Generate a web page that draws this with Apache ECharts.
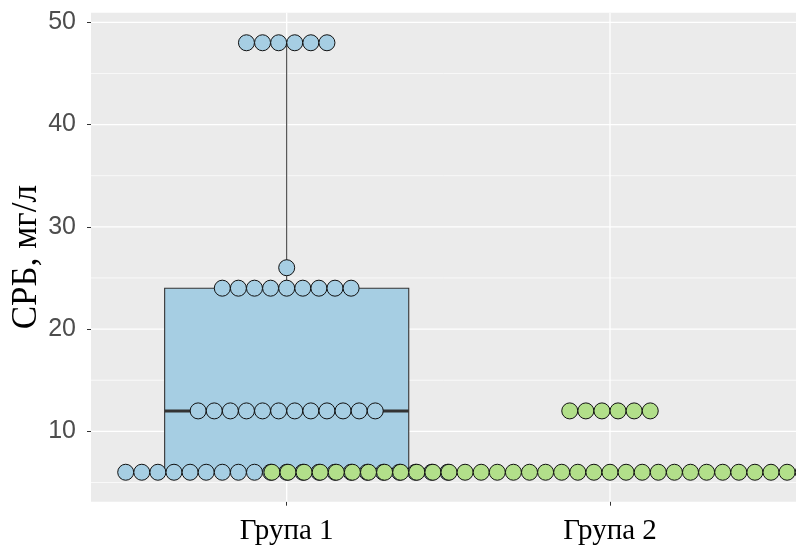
<!DOCTYPE html>
<html>
<head>
<meta charset="utf-8">
<script src="https://cdn.jsdelivr.net/npm/echarts@6/dist/echarts.min.js"></script>
<style>
html,body{margin:0;padding:0;background:#fff;}
#chart{width:796px;height:547px;}
</style>
</head>
<body>
<div id="chart"></div>
<script>
// ---- data ----
const categories = ['Група 1', 'Група 2'];
const groupPos = [1, 2];
const dotValues1 = [6, 12, 24, 26, 48];
const dotCounts1 = [21, 12, 9, 1, 6];
const dotValues2 = [6, 12];
const dotCounts2 = [43, 6];
const yMajorTicks = [10, 20, 30, 40, 50];
const yMinorTicks = [5, 15, 25, 35, 45];

// ---- styles ----
const fills = ['#A6CEE3', '#B2DF8A'];
const DOT_STEP = 16.1;
const DOT_SIZE = 16;
const BOX_WIDTH = 0.755;

function expand(values, counts) {
  const out = [];
  values.forEach((v, i) => { for (let k = 0; k < counts[i]; k++) out.push(v); });
  return out;
}
function quantile(sorted, p) {
  const h = (sorted.length - 1) * p;
  const lo = Math.floor(h), hi = Math.ceil(h);
  return sorted[lo] + (sorted[hi] - sorted[lo]) * (h - lo);
}
function boxStats(values, counts, x) {
  const s = expand(values, counts).sort((a, b) => a - b);
  const q1 = quantile(s, 0.25), med = quantile(s, 0.5), q3 = quantile(s, 0.75);
  const iqr = q3 - q1;
  const inside = s.filter(v => v >= q1 - 1.5 * iqr && v <= q3 + 1.5 * iqr);
  return [x, q1, med, q3, Math.min(...inside), Math.max(...inside)];
}
function dots(values, counts, x) {
  const out = [];
  values.forEach((v, i) => {
    const n = counts[i];
    for (let k = 0; k < n; k++) {
      out.push({ value: [x, v], symbolOffset: [(k - (n - 1) / 2) * DOT_STEP, 0] });
    }
  });
  return out;
}

const boxData = [
  boxStats(dotValues1, dotCounts1, groupPos[0]),
  boxStats(dotValues2, dotCounts2, groupPos[1])
];

// grid lines (drawn through the axes' scales)
const gridItems = [];
const gridKinds = [];
yMinorTicks.forEach(v => { gridItems.push([1, v]); gridKinds.push('hminor'); });
yMajorTicks.forEach(v => { gridItems.push([1, v]); gridKinds.push('hmajor'); });
groupPos.forEach(v => { gridItems.push([v, 10]); gridKinds.push('vmajor'); });

const chart = echarts.init(document.getElementById('chart'), null, { renderer: 'canvas' });
chart.setOption({
  animation: false,
  backgroundColor: '#ffffff',
  grid: {
    left: 91, right: 0, top: 12.7, bottom: 45.3,
    containLabel: false, outerBoundsMode: 'none',
    show: true, backgroundColor: '#EBEBEB', borderWidth: 0
  },
  xAxis: {
    type: 'value',
    min: 0.3947, max: 2.5753,
    axisLine: { show: false },
    splitLine: { show: false },
    axisTick: { show: true, customValues: groupPos, length: 4, lineStyle: { color: '#333333', width: 1 } },
    axisLabel: {
      show: true, customValues: groupPos,
      formatter: v => categories[groupPos.indexOf(v)] || '',
      fontFamily: 'Liberation Serif', fontSize: 29, color: '#000000', margin: 15
    }
  },
  yAxis: {
    type: 'value',
    min: 3.12, max: 50.94,
    name: 'СРБ, мг/л',
    nameLocation: 'middle', nameRotate: 90, nameGap: 47, nameMoveOverlap: false,
    nameTextStyle: { fontFamily: 'Liberation Serif', fontSize: 35, color: '#000000' },
    axisLine: { show: false },
    splitLine: { show: false },
    axisTick: { show: true, customValues: yMajorTicks, length: 4, lineStyle: { color: '#333333', width: 1 } },
    axisLabel: {
      show: true, customValues: yMajorTicks,
      fontFamily: 'Liberation Sans', fontSize: 25, color: '#4D4D4D', margin: 15
    }
  },
  series: [
    {
      type: 'custom', z: 1, silent: true, clip: false,
      data: gridItems,
      renderItem: function (params, api) {
        const kind = gridKinds[params.dataIndex];
        const cs = params.coordSys;
        const p = api.coord([api.value(0), api.value(1)]);
        if (kind === 'vmajor') {
          return { type: 'line', shape: { x1: p[0], y1: cs.y, x2: p[0], y2: cs.y + cs.height },
            style: { stroke: '#FFFFFF', lineWidth: 1.3 } };
        }
        return { type: 'line', shape: { x1: cs.x, y1: p[1], x2: cs.x + cs.width, y2: p[1] },
          style: { stroke: '#FFFFFF', lineWidth: kind === 'hmajor' ? 1.3 : 0.7 } };
      }
    },
    {
      type: 'custom', z: 2, silent: true,
      data: boxData,
      encode: { x: 0, y: [1, 2, 3, 4, 5] },
      renderItem: function (params, api) {
        const x = api.value(0), q1 = api.value(1), med = api.value(2), q3 = api.value(3), lo = api.value(4), hi = api.value(5);
        const h = BOX_WIDTH / 2;
        const tl = api.coord([x - h, q3]);
        const br = api.coord([x + h, q1]);
        const mL = api.coord([x - h, med]);
        const mR = api.coord([x + h, med]);
        const pHi = api.coord([x, hi]);
        const pQ3 = api.coord([x, q3]);
        const pQ1 = api.coord([x, q1]);
        const pLo = api.coord([x, lo]);
        const fill = fills[params.dataIndex];
        return {
          type: 'group',
          children: [
            { type: 'line', shape: { x1: pHi[0], y1: pHi[1], x2: pQ3[0], y2: pQ3[1] }, style: { stroke: '#333333', lineWidth: 1 } },
            { type: 'line', shape: { x1: pLo[0], y1: pLo[1], x2: pQ1[0], y2: pQ1[1] }, style: { stroke: '#333333', lineWidth: 1 } },
            { type: 'rect', shape: { x: tl[0], y: tl[1], width: br[0] - tl[0], height: br[1] - tl[1] },
              style: { fill: fill, stroke: '#333333', lineWidth: 1.1 } },
            { type: 'line', shape: { x1: mL[0], y1: mL[1], x2: mR[0], y2: mR[1] }, style: { stroke: '#333333', lineWidth: 3 } }
          ]
        };
      }
    },
    {
      type: 'scatter', z: 3, silent: true,
      symbol: 'circle', symbolSize: DOT_SIZE,
      itemStyle: { color: fills[0], borderColor: '#111111', borderWidth: 1, opacity: 1 },
      data: dots(dotValues1, dotCounts1, groupPos[0])
    },
    {
      type: 'scatter', z: 4, silent: true,
      symbol: 'circle', symbolSize: DOT_SIZE,
      itemStyle: { color: fills[1], borderColor: '#111111', borderWidth: 1, opacity: 1 },
      data: dots(dotValues2, dotCounts2, groupPos[1])
    }
  ]
});
</script>
</body>
</html>
